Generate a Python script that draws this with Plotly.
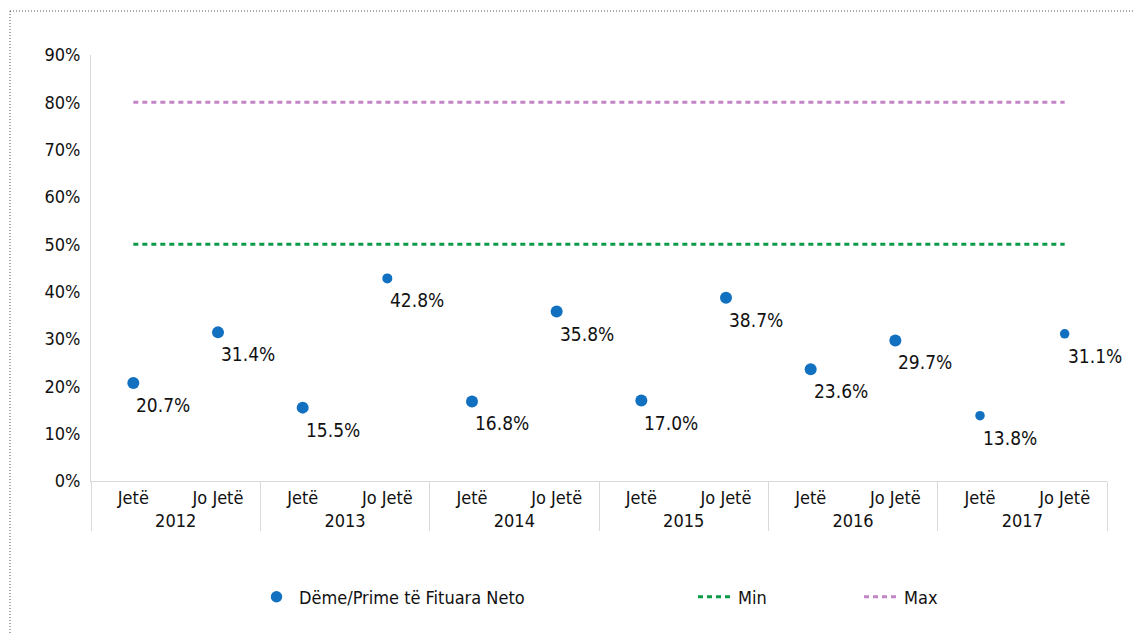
import plotly.graph_objects as go

# Net claims / net earned premiums, by year and business line
years = ["2012", "2013", "2014", "2015", "2016", "2017"]
lines = ["Jetë", "Jo Jetë"]
ratios = [20.7, 31.4, 15.5, 42.8, 16.8, 35.8, 17.0, 38.7, 23.6, 29.7, 13.8, 31.1]
min_level = 50
max_level = 80
y_ticks = [0, 10, 20, 30, 40, 50, 60, 70, 80, 90]

# marker diameters per point
marker_sizes = [12, 12, 12, 10, 12, 12, 12, 12, 12, 12, 9.5, 9.5]

FONT = "DejaVu Sans Condensed, Liberation Sans Narrow, DejaVu Sans, sans-serif"
BLUE = "#1170C0"
GREEN = "#0A9A48"
PURPLE = "#C385C6"
TEXT = "#111111"

x_year = [y for y in years for _ in lines]
x_line = [l for _ in years for l in lines]
n = len(x_year)
values = [v / 100 for v in ratios]

fig = go.Figure()

fig.add_trace(go.Scatter(
    x=[x_year, x_line], y=values, mode="markers",
    name="Dëme/Prime të Fituara Neto",
    marker=dict(color=BLUE, size=marker_sizes, opacity=1, line=dict(width=0)),
    legend="legend", showlegend=True,
))
fig.add_trace(go.Scatter(
    x=[x_year, x_line], y=[min_level / 100] * n, mode="lines", name="Min",
    line=dict(color=GREEN, width=3, dash="5px,4px"),
    legend="legend2", showlegend=True,
))
fig.add_trace(go.Scatter(
    x=[x_year, x_line], y=[max_level / 100] * n, mode="lines", name="Max",
    line=dict(color=PURPLE, width=3, dash="5px,4px"),
    legend="legend3", showlegend=True,
))

# value labels under each point
for i, v in enumerate(ratios):
    fig.add_annotation(
        x=i, y=v / 100, text=f"{v:.1f}%", showarrow=False,
        xanchor="left", yanchor="middle", xshift=1, yshift=-22,
        font=dict(family=FONT, size=19, color=TEXT),
    )

# dotted frame around the chart
L, T, W = 91, 55, 1016
H = 426
def px(xv):
    return (xv - L) / W
def py(yv):
    return (T + H - yv) / H
fig.add_shape(type="rect", xref="paper", yref="paper",
              x0=px(10), x1=px(1145), y0=py(11), y1=py(645),
              line=dict(color="#555555", width=1, dash="1px,2px"),
              fillcolor="rgba(0,0,0,0)", layer="below")

legend_common = dict(orientation="h", yanchor="middle", xanchor="left",
                     y=py(597), bgcolor="rgba(0,0,0,0)",
                     font=dict(family=FONT, size=18, color=TEXT),
                     itemwidth=35)

fig.update_layout(
    width=1135, height=635,
    margin=dict(l=L, r=1135 - L - W, t=T, b=635 - T - H),
    paper_bgcolor="white", plot_bgcolor="white",
    font=dict(family=FONT, size=18, color=TEXT),
    showlegend=True,
    legend=dict(x=px(254), **legend_common),
    legend2=dict(x=px(693), **legend_common),
    legend3=dict(x=px(859), **legend_common),
    xaxis=dict(
        type="multicategory", range=[-0.5, n - 0.5], autorange=False,
        showline=True, linecolor="#D9D9D9", linewidth=1,
        showgrid=False, ticks="", showdividers=True, dividercolor="#D9D9D9",
        dividerwidth=1, tickfont=dict(family=FONT, size=18, color=TEXT),
    ),
    yaxis=dict(
        range=[0, 0.9], tickvals=[t / 100 for t in y_ticks],
        ticktext=[f"{t}%" for t in y_ticks], showgrid=False, zeroline=False,
        showline=True, linecolor="#D9D9D9", linewidth=1, ticks="",
        ticklabelstandoff=6,
        tickfont=dict(family=FONT, size=18, color=TEXT),
    ),
)

fig.write_html("out.html")
